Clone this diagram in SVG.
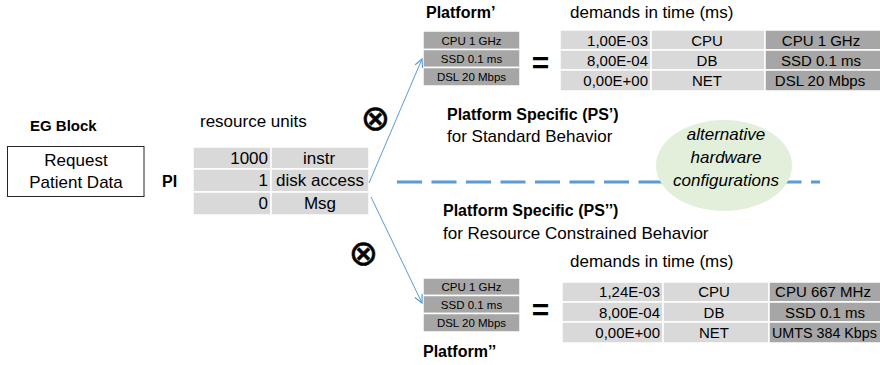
<svg xmlns="http://www.w3.org/2000/svg" width="880" height="365" viewBox="0 0 880 365">
<style>
text{font-family:"Liberation Sans",Arial,sans-serif;fill:#000}
.b{font-weight:bold}
.t17{font-size:17px}
.h{font-size:16px;font-weight:bold}
.sm{font-size:11.5px;text-anchor:middle}
.td{font-size:15px}
.mid{text-anchor:middle}
.end{text-anchor:end}
.lt{fill:#d9d9d9;stroke:#fff;stroke-width:1.5}
.dk{fill:#a6a6a6;stroke:#fff;stroke-width:1.5}
.ot{font-family:"DejaVu Sans",sans-serif;font-size:35px;text-anchor:middle;stroke:#000;stroke-width:0.6}
.eq{font-size:30px;font-weight:bold;text-anchor:middle}
.it{font-style:italic;font-size:17px;text-anchor:middle}
.conn{stroke:#5b9bd5;stroke-width:1;fill:none}
</style>
<defs>
<marker id="ah" markerUnits="userSpaceOnUse" markerWidth="12" markerHeight="12" refX="9" refY="5" orient="auto" viewBox="0 0 12 10">
<path d="M1,1 L9,5 L1,9" fill="none" stroke="#5b9bd5" stroke-width="1.2"/>
</marker>
</defs>

<g id="eg-block">
<text class="b" x="30" y="131" style="font-size:15px">EG Block</text>
<rect x="7.5" y="146.5" width="136.5" height="50" fill="#fff" stroke="#262626" stroke-width="1"/>
<text class="t17 mid" x="76" y="166">Request</text>
<text class="t17 mid" x="76" y="188">Patient Data</text>
</g>

<g id="pi">
<text class="b" x="162" y="187" style="font-size:16px">PI</text>
<text class="t17" x="200" y="127">resource units</text>
<rect class="lt" x="193" y="147" width="78" height="22"/>
<rect class="lt" x="271" y="147" width="98" height="22"/>
<rect class="lt" x="193" y="169" width="78" height="23"/>
<rect class="lt" x="271" y="169" width="98" height="23"/>
<rect class="lt" x="193" y="192" width="78" height="23"/>
<rect class="lt" x="271" y="192" width="98" height="23"/>
<text class="t17 end" x="268" y="164">1000</text>
<text class="t17 end" x="268" y="186">1</text>
<text class="t17 end" x="268" y="209">0</text>
<text class="t17 mid" x="319" y="164">instr</text>
<text class="t17 mid" x="320" y="186">disk access</text>
<text class="t17 mid" x="320" y="209">Msg</text>
</g>

<g id="otimes">
<text class="ot" x="375.5" y="129.5">⊗</text>
<text class="ot" x="363.5" y="265">⊗</text>
</g>

<g id="platform1">
<text class="h" x="426" y="18">Platform’</text>
<rect class="dk" x="423" y="31" width="97" height="18.5"/>
<rect class="dk" x="423" y="49.5" width="97" height="18"/>
<rect class="dk" x="423" y="67.5" width="97" height="18.5"/>
<text class="sm" x="471.5" y="44.5">CPU 1 GHz</text>
<text class="sm" x="471.5" y="62.5">SSD 0.1 ms</text>
<text class="sm" x="471.5" y="81">DSL 20 Mbps</text>
</g>

<g id="demands1">
<text class="eq" x="540.5" y="73">=</text>
<text class="t17" x="570" y="18">demands in time (ms)</text>
<rect class="lt" x="560" y="30" width="91" height="20"/>
<rect class="lt" x="651" y="30" width="114" height="20"/>
<rect class="dk" x="765" y="30" width="120" height="20"/>
<rect class="lt" x="560" y="50" width="91" height="20"/>
<rect class="lt" x="651" y="50" width="114" height="20"/>
<rect class="dk" x="765" y="50" width="120" height="20"/>
<rect class="lt" x="560" y="70" width="91" height="21"/>
<rect class="lt" x="651" y="70" width="114" height="21"/>
<rect class="dk" x="765" y="70" width="120" height="21"/>
<text class="td end" x="648" y="45.5">1,00E-03</text>
<text class="td end" x="648" y="65.5">8,00E-04</text>
<text class="td end" x="648" y="86">0,00E+00</text>
<text class="td mid" x="707" y="45.5">CPU</text>
<text class="td mid" x="707" y="65.5">DB</text>
<text class="td mid" x="707" y="86">NET</text>
<text class="td mid" x="821" y="45.5">CPU 1 GHz</text>
<text class="td mid" x="821" y="65.5">SSD 0.1 ms</text>
<text class="td mid" x="820" y="86">DSL 20 Mbps</text>
</g>

<g id="ps1">
<text class="h" x="447" y="120">Platform Specific (PS’)</text>
<text class="t17" x="447" y="142">for Standard Behavior</text>
</g>

<g id="separator">
<line x1="397" y1="182" x2="820" y2="182" stroke="#5b9bd5" stroke-width="3" stroke-dasharray="25 9.5"/>
</g>

<g id="alt-hw">
<ellipse cx="724" cy="165.5" rx="68" ry="45.5" fill="#e2efda"/>
<text class="it" x="726" y="140">alternative</text>
<text class="it" x="726" y="163">hardware</text>
<text class="it" x="726" y="186">configurations</text>
</g>

<g id="ps2">
<text class="h" x="443" y="216">Platform Specific (PS’’)</text>
<text class="t17" x="443" y="239">for Resource Constrained Behavior</text>
</g>

<g id="platform2">
<rect class="dk" x="423" y="278" width="97" height="17.5"/>
<rect class="dk" x="423" y="295.5" width="97" height="18"/>
<rect class="dk" x="423" y="313.5" width="97" height="18.5"/>
<text class="sm" x="471.5" y="290.5">CPU 1 GHz</text>
<text class="sm" x="471.5" y="308.5">SSD 0.1 ms</text>
<text class="sm" x="471.5" y="327">DSL 20 Mbps</text>
<text class="h" x="423" y="357">Platform’’</text>
</g>

<g id="demands2">
<text class="eq" x="540.5" y="320">=</text>
<text class="t17" x="570" y="267">demands in time (ms)</text>
<rect class="lt" x="562" y="282" width="101" height="20"/>
<rect class="lt" x="663" y="282" width="106" height="20"/>
<rect class="dk" x="769" y="282" width="120" height="20"/>
<rect class="lt" x="562" y="302" width="101" height="20"/>
<rect class="lt" x="663" y="302" width="106" height="20"/>
<rect class="dk" x="769" y="302" width="120" height="20"/>
<rect class="lt" x="562" y="322" width="101" height="21"/>
<rect class="lt" x="663" y="322" width="106" height="21"/>
<rect class="dk" x="769" y="322" width="120" height="21"/>
<text class="td end" x="660" y="297">1,24E-03</text>
<text class="td end" x="660" y="317.5">8,00E-04</text>
<text class="td end" x="660" y="338">0,00E+00</text>
<text class="td mid" x="714" y="297">CPU</text>
<text class="td mid" x="714" y="317.5">DB</text>
<text class="td mid" x="714" y="338">NET</text>
<text class="td mid" x="823" y="297">CPU 667 MHz</text>
<text class="td mid" x="825" y="317.5">SSD 0.1 ms</text>
<text class="td" x="772" y="338" style="font-size:14.3px">UMTS 384 Kbps</text>
</g>

<g id="connectors">
<line class="conn" x1="369" y1="183" x2="422" y2="59" marker-end="url(#ah)"/>
<line class="conn" x1="371" y1="197" x2="422" y2="303" marker-end="url(#ah)"/>
</g>
</svg>
